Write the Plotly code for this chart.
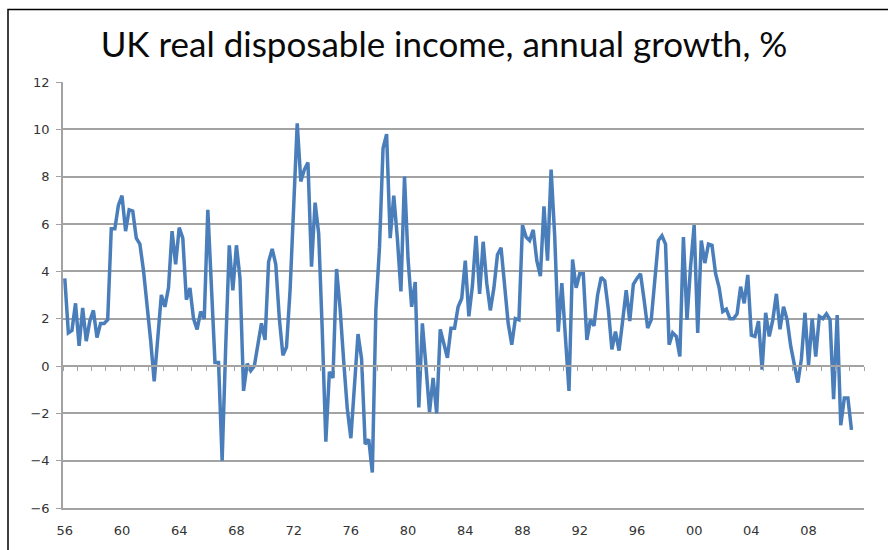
import plotly.graph_objects as go

# Quarterly categories 1956Q1 .. 2011Q1
start_year = 1956
growth = [
    3.7, 1.4, 1.5, 2.65, 0.85, 2.45, 1.05, 1.9, 2.35, 1.2, 1.8, 1.8, 1.95, 5.8, 5.8, 6.8,
    7.2, 5.7, 6.6, 6.55, 5.4, 5.15, 4.05, 2.65, 1.1, -0.65, 1.2, 3.0, 2.5, 3.3, 5.7, 4.3,
    5.85, 5.4, 2.8, 3.3, 2.0, 1.55, 2.3, 2.0, 6.6, 3.3, 0.15, 0.15, -4.0, 0.8, 5.1, 3.2,
    5.1, 3.7, -1.05, 0.1, -0.2, 0.0, 0.9, 1.8, 1.1, 4.4, 4.95, 4.3, 2.0, 0.45, 0.8, 3.2,
    6.7, 10.25, 7.8, 8.3, 8.6, 4.2, 6.9, 5.6, 1.5, -3.2, -0.25, -0.5, 4.1, 2.4, 0.2, -1.8,
    -3.05, -0.8, 1.35, 0.3, -3.3, -3.1, -4.5, 2.4, 5.0, 9.2, 9.8, 5.4, 7.2, 5.4, 3.15, 8.0,
    4.5, 2.5, 3.55, -1.75, 1.8, 0.0, -1.95, -0.5, -2.0, 1.55, 0.9, 0.35, 1.6, 1.6, 2.5, 2.85,
    4.45, 2.1, 3.4, 5.5, 3.05, 5.25, 3.5, 2.35, 3.3, 4.7, 5.0, 3.5, 1.8, 0.9, 2.0, 1.95,
    5.95, 5.45, 5.3, 5.75, 4.45, 3.8, 6.75, 4.45, 8.3, 5.5, 1.45, 3.5, 1.0, -1.05, 4.5, 3.3,
    3.9, 3.9, 1.1, 1.95, 1.7, 3.0, 3.75, 3.6, 2.4, 0.7, 1.45, 0.65, 1.9, 3.2, 1.9, 3.45,
    3.7, 3.9, 2.8, 1.6, 1.95, 3.6, 5.3, 5.5, 5.15, 0.9, 1.4, 1.25, 0.4, 5.45, 1.95, 4.2,
    5.95, 1.4, 5.3, 4.35, 5.15, 5.1, 3.9, 3.3, 2.3, 2.4, 2.0, 2.0, 2.2, 3.35, 2.65, 3.85,
    1.3, 1.25, 1.9, -0.15, 2.25, 1.25, 1.95, 3.05, 1.55, 2.5, 1.95, 0.85, 0.0, -0.7, 0.3, 2.25,
    0.05, 2.0, 0.4, 2.1, 2.0, 2.2, 1.95, -1.4, 2.15, -2.5, -1.35, -1.35, -2.7,
]
quarters = [f"{start_year + k // 4}Q{k % 4 + 1}" for k in range(len(growth))]
n_categories = 224  # axis spans 1956Q1 .. 2011Q4
label_years = ["56", "60", "64", "68", "72", "76", "80", "84", "88", "92", "96", "00", "04", "08"]
label_positions = [16 * k for k in range(len(label_years))]
y_ticks = [-6, -4, -2, 0, 2, 4, 6, 8, 10, 12]

GRID = "#a3a3a3"
BLUE = "#4a7ebb"
TICKFONT = dict(family="DejaVu Sans", size=13, color="#333333")

fig = go.Figure()
fig.add_trace(go.Scatter(
    x=list(range(len(growth))), y=growth, mode="lines",
    line=dict(color=BLUE, width=3.5), hoverinfo="skip", showlegend=False,
))
# helper (empty) trace so the zero-crossing category axis is drawn
fig.add_trace(go.Scatter(x=[], y=[], xaxis="x2", showlegend=False, hoverinfo="skip"))

fig.update_layout(
    width=888, height=550,
    margin=dict(l=63, r=24, t=82, b=39),
    paper_bgcolor="white", plot_bgcolor="white",
    title=dict(
        text="UK real disposable income, annual growth, %",
        x=0.5, xanchor="center", y=0.918, yanchor="middle",
        font=dict(family="Lato", size=35, color="#0a0a0a"),
    ),
    xaxis=dict(
        range=[-0.5, n_categories - 0.5],
        tickmode="array", tickvals=label_positions, ticktext=label_years,
        showgrid=False, zeroline=False,
        showline=True, linecolor=GRID, linewidth=1.5,
        ticks="", ticklabelstandoff=10, tickfont=TICKFONT,
    ),
    xaxis2=dict(
        overlaying="x", anchor="free", position=1/3, side="bottom",
        range=[-0.5, n_categories - 0.5],
        tickmode="array", tickvals=[4 * k - 0.5 for k in range(n_categories // 4 + 1)],
        showticklabels=False, ticks="outside", ticklen=4, tickcolor=GRID,
        showline=True, linecolor=GRID, linewidth=1.5,
        showgrid=False, zeroline=False,
    ),
    yaxis=dict(
        range=[-6, 12], tickmode="array", tickvals=y_ticks,
        showgrid=True, gridcolor=GRID, gridwidth=1.5,
        zeroline=False, showline=True, linecolor=GRID, linewidth=1.5,
        ticks="outside", ticklen=5, tickcolor=GRID, ticklabelstandoff=4,
        tickfont=TICKFONT,
    ),
    shapes=[dict(
        type="rect", xref="paper", yref="paper",
        x0=(8 - 63) / 801, x1=(900 - 63) / 801,
        y0=-0.2, y1=1 + (82 - 9) / 429,
        line=dict(color="black", width=1.5), layer="above",
    )],
)

fig.write_html("out.html")
